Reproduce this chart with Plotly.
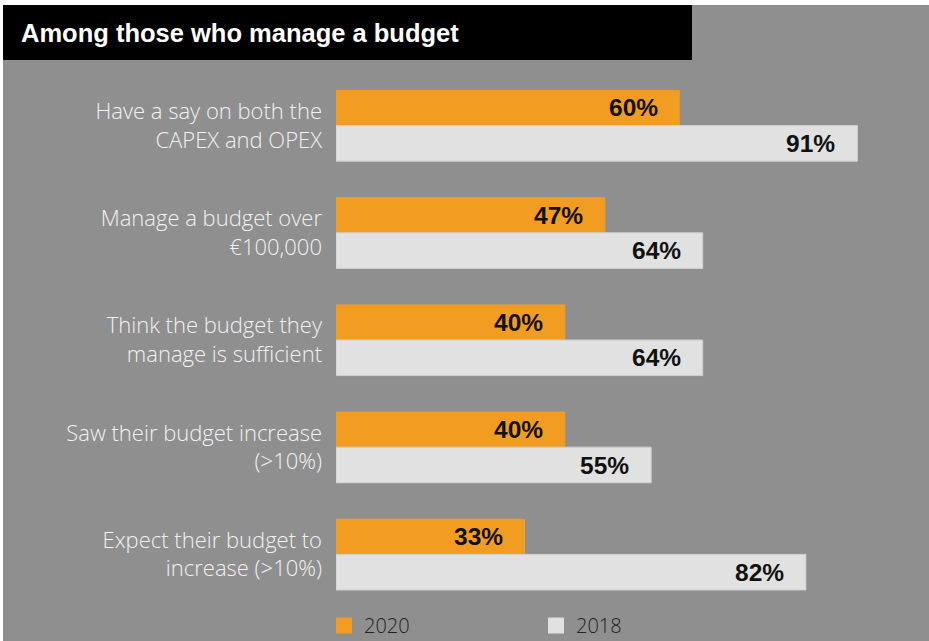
import plotly.graph_objects as go

# Survey results among respondents who manage a budget
categories = [
    "Have a say on both the<br>CAPEX and OPEX",
    "Manage a budget over<br>€100,000",
    "Think the budget they<br>manage is sufficient",
    "Saw their budget increase<br>(>10%)",
    "Expect their budget to<br>increase (>10%)",
]
values_2020 = [60, 47, 40, 40, 33]
values_2018 = [91, 64, 64, 55, 82]
series_names = ["2020", "2018"]
title_text = "Among those who manage a budget"

# Canvas geometry (pixels); the bottom strip holding the legend lies
# inside the paper so the legend does not push the margins.
W, H = 929, 641
M_L, M_R, M_T = 336, 20, 72
PLOT_BOTTOM = 608
PW = W - M_L - M_R
PAPER_H = H - M_T

ORANGE = "#f39c22"
LIGHT = "#e1e1e1"
BG = "#8f8f8f"
LABEL_FONT = "Open Sans"


def px_x(px):
    return (px - M_L) / PW


def px_y(py):
    return (H - py) / PAPER_H


fig = go.Figure()
colors = [ORANGE, LIGHT]
outlines = [dict(width=0), dict(width=1, color="#d0d0d0")]
for name, vals, col, outline in zip(series_names, [values_2020, values_2018], colors, outlines):
    fig.add_trace(go.Bar(
        y=categories, x=vals, orientation="h", name=name,
        marker=dict(color=col, line=outline),
        showlegend=False, hoverinfo="skip",
    ))
    # legend swatch
    fig.add_trace(go.Scatter(
        x=[None], y=[None], mode="markers", name=name,
        marker=dict(symbol="square", size=16, color=col),
        showlegend=True,
    ))

# value labels at the end of each bar
offset = 17.8
for vals, shift in [(values_2020, offset), (values_2018, -offset)]:
    for cat, v in zip(categories, vals):
        fig.add_annotation(
            x=v, y=cat, xref="x", yref="y", text=f"{v}%",
            showarrow=False, xanchor="right", yanchor="middle",
            xshift=-20, yshift=shift,
            font=dict(family="Liberation Sans, Arial", size=24.5, color="#111111", weight="bold"),
        )

# page frame: white edges, black title band
shapes = [
    dict(type="rect", xref="paper", yref="paper",
         x0=px_x(0), x1=px_x(W), y0=px_y(0), y1=px_y(5),
         fillcolor="white", line=dict(width=0), layer="below"),
    dict(type="rect", xref="paper", yref="paper",
         x0=px_x(0), x1=px_x(3), y0=px_y(0), y1=px_y(H),
         fillcolor="white", line=dict(width=0), layer="below"),
    dict(type="rect", xref="paper", yref="paper",
         x0=px_x(3), x1=px_x(692), y0=px_y(5), y1=px_y(60),
         fillcolor="black", line=dict(width=0), layer="below"),
]
fig.add_annotation(
    x=px_x(19), y=px_y(33), xref="paper", yref="paper", text=title_text,
    showarrow=False, xanchor="left", yanchor="middle",
    font=dict(family="Liberation Sans, Arial", size=25.5, color="white", weight="bold"),
)

fig.update_layout(
    width=W, height=H,
    margin=dict(l=M_L, r=M_R, t=M_T, b=0, pad=0, autoexpand=False),
    paper_bgcolor=BG, plot_bgcolor=BG,
    barmode="group", bargap=0.336, bargroupgap=0,
    shapes=shapes,
    showlegend=True,
    legend=dict(
        orientation="h", x=px_x(324), xanchor="left", y=px_y(625.5), yanchor="middle",
        bgcolor="rgba(0,0,0,0)", entrywidth=167, entrywidthmode="pixels",
        font=dict(family=LABEL_FONT, size=20, color="#222222", weight=300),
        itemclick=False, itemdoubleclick=False,
    ),
    xaxis=dict(range=[0, 100], visible=False, fixedrange=True, automargin=False),
    yaxis=dict(
        domain=[px_y(PLOT_BOTTOM), 1], automargin=False,
        autorange="reversed", showgrid=False, zeroline=False, showline=False,
        ticks="", ticklabelstandoff=13, fixedrange=True,
        tickfont=dict(family=LABEL_FONT, size=22, color="#f2f2f2", weight=300),
    ),
)

fig.write_html("out.html", config={"displayModeBar": False})
